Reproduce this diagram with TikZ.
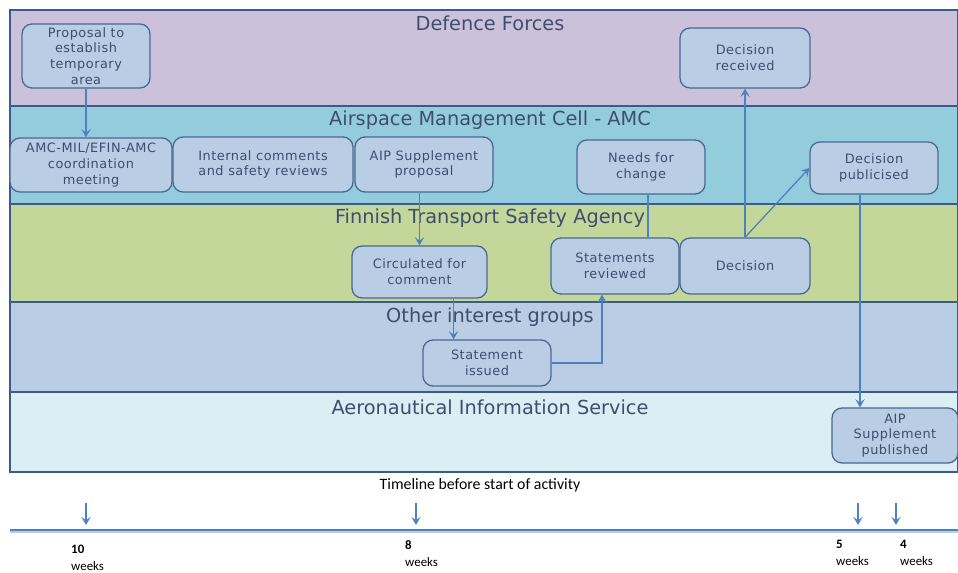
\documentclass[tikz,border=0pt]{standalone}
\usepackage{fontspec}
\setmainfont{DejaVu Sans}
\newfontfamily\boxfont[LetterSpace=4]{DejaVu Sans}
\newfontfamily\calfont{Carlito}
\usetikzlibrary{calc,arrows.meta}

\definecolor{deflane}{HTML}{CCC1DA}
\definecolor{amclane}{HTML}{93CDDD}
\definecolor{ftslane}{HTML}{C4D79B}
\definecolor{othlane}{HTML}{B9CDE5}
\definecolor{aislane}{HTML}{DBEEF4}
\definecolor{laneline}{HTML}{3B5C88}
\definecolor{boxfill}{HTML}{B9CDE5}
\definecolor{boxline}{HTML}{4A6890}
\definecolor{flowcol}{HTML}{4F81BD}
\definecolor{txtcol}{HTML}{3E4E6E}

\begin{document}
\begin{tikzpicture}[x=0.03cm,y=-0.03cm,>={Stealth[length=7pt,width=8pt,inset=3pt]},
    lane/.style={draw=laneline,line width=1.2pt},
    lane title/.style={text=txtcol,font=\fontsize{16.5}{18}\selectfont,inner sep=0},
    main node/.style={rounded corners=0.3cm,draw=boxline,fill=boxfill,line width=1.1pt,align=center,text=txtcol,inner sep=1pt,font=\boxfont\fontsize{11}{13.4}\selectfont},
    flow/.style={->,draw=flowcol,line width=1.1pt},
    week/.style={anchor=north west,align=left,inner sep=0,font=\calfont\fontsize{11}{14.5}\selectfont}]
    \useasboundingbox (0,0) rectangle (958,573);

    % swimlanes
    \filldraw[lane,fill=deflane] (10,10) rectangle (958,106);
    \filldraw[lane,fill=amclane] (10,106) rectangle (958,204);
    \filldraw[lane,fill=ftslane] (10,204) rectangle (958,302);
    \filldraw[lane,fill=othlane] (10,302) rectangle (958,392);
    \filldraw[lane,fill=aislane] (10,392) rectangle (958,472);

    \node[lane title] (t1) at (490,23) {Defence Forces};
    \node[lane title] (t2) at (490,120) {Airspace Management Cell - AMC};
    \node[lane title] (t3) at (490,218) {Finnish Transport Safety Agency};
    \node[lane title] (t4) at (490,317) {Other interest groups};
    \node[lane title] (t5) at (490,407) {Aeronautical Information Service};

    % steps
    \node[main node,minimum width=3.84cm,minimum height=1.92cm] (1) at (86,56) {Proposal to\\establish\\temporary\\area};
    \node[main node,minimum width=4.86cm,minimum height=1.62cm] (2) at (91,165) {AMC-MIL/EFIN-AMC\\coordination\\meeting};
    \node[main node,minimum width=5.4cm,minimum height=1.65cm] (3) at (263,164.5) {Internal comments\\and safety reviews};
    \node[main node,minimum width=4.14cm,minimum height=1.65cm] (4) at (424,164.5) {AIP Supplement\\proposal};
    \node[main node,minimum width=3.84cm,minimum height=1.62cm] (5) at (641,167) {Needs for\\change};
    \node[main node,minimum width=4.05cm,minimum height=1.56cm] (6) at (419.5,272) {Circulated for\\comment};
    \node[main node,minimum width=3.9cm,minimum height=1.8cm] (7) at (745,58) {Decision\\received};
    \node[main node,minimum width=3.9cm,minimum height=1.68cm] (8) at (745,266) {Decision};
    \node[main node,minimum width=3.84cm,minimum height=1.68cm] (9) at (615,266) {Statements\\reviewed};
    \node[main node,minimum width=3.84cm,minimum height=1.38cm] (10) at (487,363) {Statement\\issued};
    \node[main node,minimum width=3.84cm,minimum height=1.56cm] (11) at (874,168) {Decision\\publicised};
    \node[main node,minimum width=3.78cm,minimum height=1.65cm] (12) at (895,435.5) {AIP\\Supplement\\published};

    % flow
    \coordinate (c1) at ($(6.south)!0.5!(6.south east)$);
    \coordinate (c2) at ([xshift=-0.39cm]9.south);
    \coordinate (c3) at ([xshift=0.21cm]5.south);
    \coordinate (c4) at ([xshift=-0.42cm]11.south);
    \draw[flow] (1.south) -- (1.south |- 2.north);
    \draw[flow] (4.south -| 6.north) -- (6.north);
    \draw[flow] (c1) -- (c1 |- 10.north);
    \draw[flow] (10.east) -| (c2);
    \draw[flow,-] (c3) -- (c3 |- 9.north);
    \draw[flow] (8.north) -- (7.south);
    \draw[flow] (8.north) -- (11.west);
    \draw[flow] (c4) -- (c4 |- 12.north);

    % timeline
    \node[font=\calfont\fontsize{13.5}{15}\selectfont,inner sep=0] (tl) at (480,485) {Timeline before start of activity};
    \coordinate (l0) at (10,530);
    \coordinate (l1) at (958,530);
    \draw[flowcol!40,line width=1.6pt] ([yshift=-0.06cm]l0) -- ([yshift=-0.06cm]l1);
    \draw[flowcol,line width=1.6pt] (l0) -- (l1);
    \foreach \x in {86,416,858,896}
        \draw[flow] (\x,503) -- (\x,525);
    \node[week] (w1) at (71,545) {\textbf{10}\\weeks};
    \node[week] (w2) at (405,540) {\textbf{8}\\weeks};
    \node[week] (w3) at (836,540) {\textbf{5}\\weeks};
    \node[week] (w4) at (900,540) {\textbf{4}\\weeks};
\end{tikzpicture}
\end{document}
